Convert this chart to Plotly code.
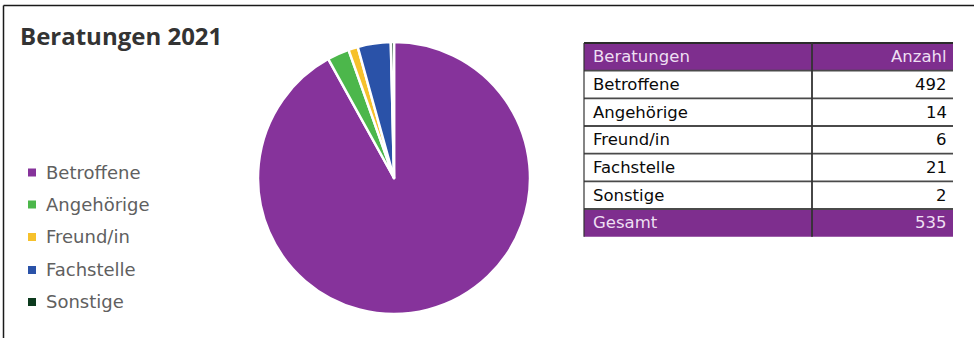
import plotly.graph_objects as go

# Data
categories = ["Betroffene", "Angehörige", "Freund/in", "Fachstelle", "Sonstige"]
counts = [492, 14, 6, 21, 2]
slice_colors = ["#86339b", "#4cb74b", "#f6c12c", "#2a52a8", "#0d3b1e"]
title_text = "Beratungen 2021"
table_header = ["Beratungen", "Anzahl"]
total_label = "Gesamt"

W, H = 974, 338
TABLE_PURPLE = "#7e2e8e"


def px(x):
    return x / W


def py(y):
    return 1 - y / H


fig = go.Figure()

# Pie: center (394, 178), radius 136 px
fig.add_trace(go.Pie(
    labels=categories,
    values=counts,
    sort=False,
    direction="clockwise",
    rotation=0,
    marker=dict(colors=slice_colors, line=dict(color="white", width=2.5)),
    textinfo="none",
    hoverinfo="label+value",
    showlegend=False,
    domain=dict(x=[px(258), px(530)], y=[py(314), py(42)]),
))

shapes = []
annotations = []

# Outer frame (top and left edges)
shapes.append(dict(type="line", xref="paper", yref="paper",
                   x0=px(3.5), x1=1, y0=py(5.5), y1=py(5.5),
                   line=dict(color="#1a1a1a", width=1.5)))
shapes.append(dict(type="line", xref="paper", yref="paper",
                   x0=px(3.5), x1=px(3.5), y0=py(5.5), y1=0,
                   line=dict(color="#1a1a1a", width=1.5)))

# Title
annotations.append(dict(text=f"<b>{title_text}</b>", xref="paper", yref="paper",
                        x=px(18), y=py(36), xanchor="left", yanchor="middle",
                        showarrow=False,
                        font=dict(family="Open Sans", size=24, color="#333333")))

# Custom legend
legend_y = [172.5, 204.5, 237, 270, 302]
for name, col, ly in zip(categories, slice_colors, legend_y):
    shapes.append(dict(type="rect", xref="paper", yref="paper",
                       x0=px(28), x1=px(36), y0=py(ly + 4), y1=py(ly - 4),
                       fillcolor=col, line=dict(width=0)))
    annotations.append(dict(text=name, xref="paper", yref="paper",
                            x=px(44), y=py(ly - 0.5), xanchor="left", yanchor="middle",
                            showarrow=False,
                            font=dict(family="DejaVu Sans", size=18, color="#606060")))

# Table
t_left, t_right, t_div = 584, 953, 812
row_edges = [43, 70.7, 98.3, 126, 153.7, 181.3, 209, 236.7]
tfont = "DejaVu Sans"

# header and total row backgrounds
for top, bot in [(row_edges[0], row_edges[1]), (row_edges[-2], row_edges[-1])]:
    shapes.append(dict(type="rect", xref="paper", yref="paper",
                       x0=px(t_left), x1=px(t_right), y0=py(bot), y1=py(top),
                       fillcolor=TABLE_PURPLE, line=dict(width=0)))

# horizontal rules
for i, yy in enumerate(row_edges):
    if i == len(row_edges) - 1:
        continue
    shapes.append(dict(type="line", xref="paper", yref="paper",
                       x0=px(t_left), x1=px(t_right), y0=py(yy), y1=py(yy),
                       line=dict(color="#2b2b2b" if i == 0 else "#4a4a4a", width=1.8)))
# vertical rules
shapes.append(dict(type="line", xref="paper", yref="paper",
                   x0=px(t_left), x1=px(t_left), y0=py(row_edges[-1]), y1=py(row_edges[0]),
                   line=dict(color="#333333", width=1.2)))
shapes.append(dict(type="line", xref="paper", yref="paper",
                   x0=px(t_div), x1=px(t_div), y0=py(row_edges[-1]), y1=py(row_edges[0]),
                   line=dict(color="#333333", width=1.8)))

rows = [(table_header[0], table_header[1], True)]
rows += [(c, str(v), False) for c, v in zip(categories, counts)]
rows += [(total_label, str(sum(counts)), True)]

for i, (lab, val, highlight) in enumerate(rows):
    yc = (row_edges[i] + row_edges[i + 1]) / 2
    col = "#eedff2" if highlight else "#0a0a0a"
    annotations.append(dict(text=lab,
                            xref="paper", yref="paper",
                            x=px(591), y=py(yc), xanchor="left", yanchor="middle",
                            showarrow=False,
                            font=dict(family=tfont, size=16.5, color=col)))
    annotations.append(dict(text=val,
                            xref="paper", yref="paper",
                            x=px(949), y=py(yc), xanchor="right", yanchor="middle",
                            showarrow=False,
                            font=dict(family=tfont, size=16.5, color=col)))

fig.update_layout(
    width=W, height=H,
    margin=dict(l=0, r=0, t=0, b=0),
    paper_bgcolor="white",
    plot_bgcolor="white",
    shapes=shapes,
    annotations=annotations,
)

fig.write_html("out.html")
